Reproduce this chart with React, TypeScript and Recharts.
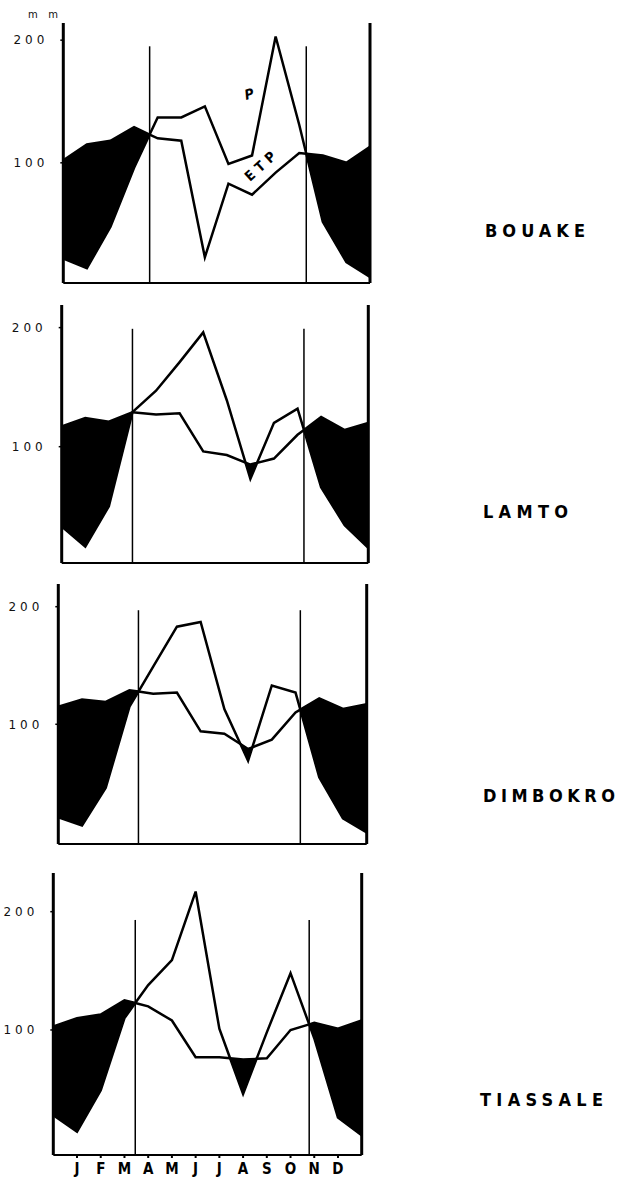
import React from "react";
import { ComposedChart, Area, Line, XAxis, YAxis, ReferenceLine } from "recharts";

const MONTHS = ["J", "F", "M", "A", "M", "J", "J", "A", "S", "O", "N", "D"];

// each series: Dec (previous year), Jan..Dec, Jan (next year) in mm
const bouakeP = [22, 14, 48, 96, 137, 137, 146, 99, 106, 203, 131, 52, 19, 7];
const bouakeETP = [102, 115, 118, 129, 120, 118, 23, 83, 74, 92, 108, 106, 100, 113];

const lamtoP = [33, 16, 50, 129, 147, 171, 196, 139, 73, 120, 132, 66, 34, 15];
const lamtoETP = [117, 124, 121, 129, 127, 128, 96, 93, 85, 90, 110, 125, 114, 120];

const dimbokroP = [21, 14, 46, 115, 149, 183, 187, 113, 69, 133, 127, 55, 20, 8];
const dimbokroETP = [115, 121, 119, 129, 126, 127, 94, 92, 79, 87, 110, 122, 113, 117];

const tiassaleP = [28, 14, 49, 110, 138, 159, 217, 101, 46, 98, 148, 93, 26, 11];
const tiassaleETP = [103, 110, 113, 125, 120, 108, 77, 77, 75, 76, 100, 106, 101, 108];

const Y_TICKS = [100, 200];

// where each panel sits on the page (px) and what its y range is
const PANELS = [
  { name: "BOUAKE", P: bouakeP, ETP: bouakeETP, left: 63.3, right: 370, top: 23, bottom: 283, yMin: 2, yMax: 214, lineTop: 195, labelX: 485, labelW: 100, labelY: 237 },
  { name: "LAMTO", P: lamtoP, ETP: lamtoETP, left: 61.7, right: 368.3, top: 305, bottom: 563, yMin: 2.3, yMax: 219, lineTop: 199, labelX: 483, labelW: 85, labelY: 518 },
  { name: "DIMBOKRO", P: dimbokroP, ETP: dimbokroETP, left: 58.3, right: 366.7, top: 584, bottom: 844, yMin: -1.8, yMax: 219.3, lineTop: 197, labelX: 483, labelW: 132, labelY: 802 },
  { name: "TIASSALE", P: tiassaleP, ETP: tiassaleETP, left: 53.3, right: 361.7, top: 873, bottom: 1155, yMin: -5.7, yMax: 232.7, lineTop: 193, labelX: 480, labelW: 123, labelY: 1106 },
];

const PAGE_W = 617;
const PAGE_H = 1178;

// add the points where P and ETP cross so the deficit fill stops exactly there
function buildRows(p: number[], etp: number[]) {
  const row = (x: number, P: number, ETP: number) => ({ x, P, ETP, deficit: [P, Math.max(P, ETP)] });
  const rows = [];
  for (let i = 0; i < p.length; i++) {
    rows.push(row(i, p[i], etp[i]));
    if (i < p.length - 1) {
      const d0 = p[i] - etp[i];
      const d1 = p[i + 1] - etp[i + 1];
      if (d0 * d1 < 0) {
        const t = d0 / (d0 - d1);
        const v = p[i] + t * (p[i + 1] - p[i]);
        rows.push(row(i + t, v, v));
      }
    }
  }
  return rows;
}

// start = first time P rises above ETP, end = last time it falls below
function wetSeason(p: number[], etp: number[]) {
  let start = 0;
  let end = p.length - 1;
  let found = false;
  for (let i = 0; i < p.length - 1; i++) {
    const d0 = p[i] - etp[i];
    const d1 = p[i + 1] - etp[i + 1];
    if (!found && d0 <= 0 && d1 > 0) {
      start = i + d0 / (d0 - d1);
      found = true;
    }
    if (d0 > 0 && d1 <= 0) end = i + d0 / (d0 - d1);
  }
  return [start, end];
}

function Panel({ panel, showMonths }: { panel: (typeof PANELS)[number]; showMonths: boolean }) {
  const rows = buildRows(panel.P, panel.ETP);
  const [wetStart, wetEnd] = wetSeason(panel.P, panel.ETP);
  const yAxisW = 50;
  const padTop = 6;
  const padBottom = 0;
  const xH = showMonths ? 22 : 2;
  const height = padTop + (panel.bottom - panel.top) + xH + padBottom;

  return (
    <div style={{ position: "absolute", left: 0, top: panel.top - padTop }}>
      <ComposedChart
        width={PAGE_W}
        height={height}
        data={rows}
        margin={{ top: padTop, right: PAGE_W - panel.right, bottom: padBottom, left: panel.left - yAxisW }}
      >
        <XAxis
          dataKey="x"
          type="number"
          domain={[0, 13]}
          allowDataOverflow
          ticks={showMonths ? MONTHS.map((_, i) => i + 1) : []}
          interval={0}
          tickFormatter={(v) => MONTHS[v - 1] ?? ""}
          height={xH}
          axisLine={{ stroke: "#000", strokeWidth: 2 }}
          tickLine={showMonths ? { stroke: "#000", strokeWidth: 2 } : false}
          tickSize={3}
          tickMargin={5}
          tick={
            showMonths
              ? { fill: "#000", fontSize: 15, fontWeight: 700, fontFamily: "'DejaVu Sans Condensed', 'Liberation Sans Narrow', sans-serif" }
              : false
          }
        />
        <YAxis
          type="number"
          domain={[panel.yMin, panel.yMax]}
          allowDataOverflow
          ticks={Y_TICKS}
          interval={0}
          width={yAxisW}
          axisLine={{ stroke: "#000", strokeWidth: 3 }}
          tickLine={{ stroke: "#000", strokeWidth: 1.5 }}
          tickSize={3}
          tickMargin={12}
          tick={{ fill: "#111", fontSize: 12, fontFamily: "'DejaVu Sans', sans-serif", letterSpacing: 4 }}
        />
        <Area
          dataKey="deficit"
          type="linear"
          fill="#000"
          fillOpacity={1}
          stroke="none"
          isAnimationActive={false}
          dot={false}
          activeDot={false}
        />
        <Line dataKey="ETP" type="linear" stroke="#000" strokeWidth={2.5} dot={false} activeDot={false} isAnimationActive={false} />
        <Line dataKey="P" type="linear" stroke="#000" strokeWidth={2.5} dot={false} activeDot={false} isAnimationActive={false} />
        <ReferenceLine x={13} stroke="#000" strokeWidth={3} />
        <ReferenceLine
          segment={[
            { x: wetStart, y: panel.yMin },
            { x: wetStart, y: panel.lineTop },
          ]}
          stroke="#000"
          strokeWidth={1.5}
        />
        <ReferenceLine
          segment={[
            { x: wetEnd, y: panel.yMin },
            { x: wetEnd, y: panel.lineTop },
          ]}
          stroke="#000"
          strokeWidth={1.5}
        />
      </ComposedChart>
    </div>
  );
}

export default function App() {
  return (
    <div style={{ position: "absolute", left: 0, top: 0, width: PAGE_W, height: PAGE_H, background: "#fff", overflow: "hidden" }}>
      {PANELS.map((panel, i) => (
        <Panel key={panel.name} panel={panel} showMonths={i === PANELS.length - 1} />
      ))}
      <svg width={PAGE_W} height={PAGE_H} style={{ position: "absolute", left: 0, top: 0, pointerEvents: "none" }}>
        <text x={28} y={18} fontSize={10} fontFamily="'DejaVu Sans', sans-serif" fill="#111" textLength={30} lengthAdjust="spacing">
          mm
        </text>
        {/* curve labels on the first panel */}
        <text
          x={246}
          y={100}
          fontSize={14}
          fontStyle="italic"
          fontWeight={700}
          fontFamily="'DejaVu Sans Condensed', sans-serif"
          fill="#000"
          transform="rotate(-15 246 100)"
        >
          P
        </text>
        <text
          x={250}
          y={182}
          fontSize={14}
          fontWeight={700}
          fontFamily="'DejaVu Sans Condensed', sans-serif"
          fill="#000"
          textLength={36}
          lengthAdjust="spacing"
          transform="rotate(-42 250 182)"
        >
          ETP
        </text>
        {PANELS.map((panel) => (
          <text
            key={panel.name}
            x={panel.labelX}
            y={panel.labelY}
            fontSize={18}
            fontWeight={700}
            fontFamily="'DejaVu Sans Condensed', 'Liberation Sans Narrow', sans-serif"
            fill="#000"
            textLength={panel.labelW}
            lengthAdjust="spacing"
          >
            {panel.name}
          </text>
        ))}
      </svg>
    </div>
  );
}
